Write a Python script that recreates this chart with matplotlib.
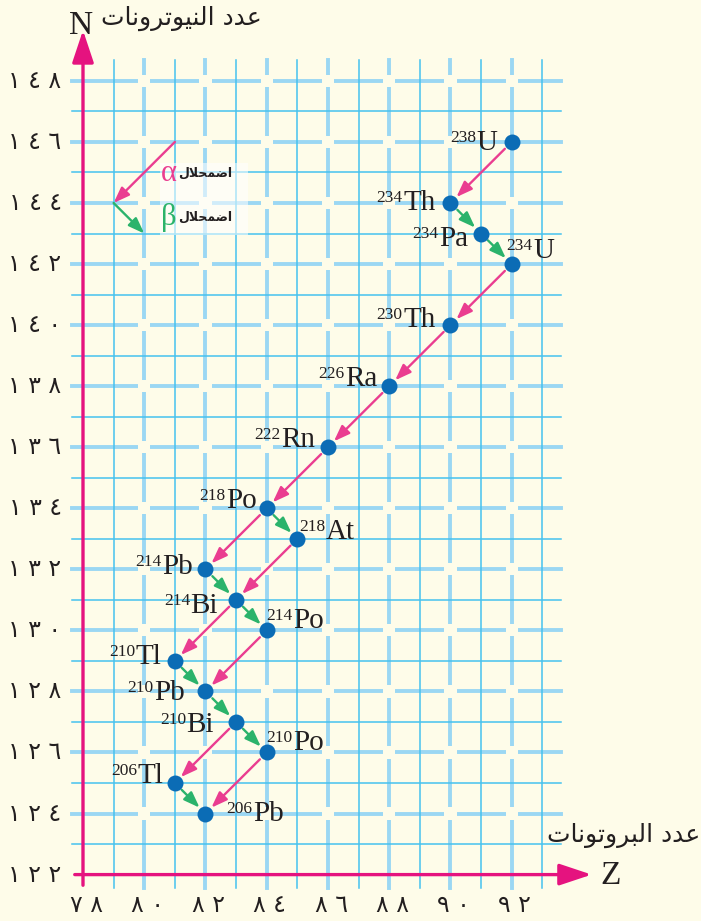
import matplotlib
matplotlib.use('Agg')
import matplotlib.pyplot as plt
from matplotlib.patches import FancyArrowPatch, Rectangle

# nuclides of the U-238 chain (Z = protons, N = neutrons)
Z = [92, 90, 91, 92, 90, 88, 86, 84, 85, 82, 83, 84, 81, 82, 83, 84, 81, 82]
N = [146, 144, 143, 142, 140, 138, 136, 134, 133, 132, 131, 130, 129, 128, 127, 126, 125, 124]
mass = [238, 234, 234, 234, 230, 226, 222, 218, 218, 214, 214, 214, 210, 210, 210, 210, 206, 206]
symbol = ['U', 'Th', 'Pa', 'U', 'Th', 'Ra', 'Rn', 'Po', 'At', 'Pb', 'Bi', 'Po',
          'Tl', 'Pb', 'Bi', 'Po', 'Tl', 'Pb']
alpha_decays = [(0, 1), (3, 4), (4, 5), (5, 6), (6, 7), (7, 9), (8, 10), (10, 12),
                (11, 13), (14, 16), (15, 17)]
beta_decays = [(1, 2), (2, 3), (7, 8), (9, 10), (10, 11), (12, 13), (13, 14), (14, 15), (16, 17)]
xticks = [78, 80, 82, 84, 86, 88, 90, 92]
yticks = [122, 124, 126, 128, 130, 132, 134, 136, 138, 140, 142, 144, 146, 148]

# label placement (pixels from the dot), not data
lab_pos = [('r', -14, -8), ('r', -15, -7), ('r', -13, -12), ('l', -5, 6), ('r', -15, -2),
           ('r', -12, 0), ('r', -13, 0), ('r', -10, 0), ('l', 2, 0), ('r', -13, -5),
           ('r', -18, -13), ('l', 0, 2), ('r', -13, -3), ('r', -21, -9), ('r', -22, -10),
           ('l', 0, 2), ('r', -11, 0), ('l', 21, -7)]

BG = '#fefce9'
THIN = '#45c2ef'
THICK = '#9bd7f3'
MAG = '#e5137f'
PINK = '#ea3d90'
GREEN = '#2bb36b'
DOT = '#0b6cb5'
INK = '#231f20'

# minimal arabic shaping (matplotlib does not join letters)
FORMS = {
    'ا': ('\uFE8D', '\uFE8E', None, None),
    'ب': ('\uFE8F', '\uFE90', '\uFE91', '\uFE92'),
    'ت': ('\uFE95', '\uFE96', '\uFE97', '\uFE98'),
    'ح': ('\uFEA1', '\uFEA2', '\uFEA3', '\uFEA4'),
    'د': ('\uFEA9', '\uFEAA', None, None),
    'ر': ('\uFEAD', '\uFEAE', None, None),
    'ض': ('\uFEBD', '\uFEBE', '\uFEBF', '\uFEC0'),
    'ع': ('\uFEC9', '\uFECA', '\uFECB', '\uFECC'),
    'ل': ('\uFEDD', '\uFEDE', '\uFEDF', '\uFEE0'),
    'م': ('\uFEE1', '\uFEE2', '\uFEE3', '\uFEE4'),
    'ن': ('\uFEE5', '\uFEE6', '\uFEE7', '\uFEE8'),
    'و': ('\uFEED', '\uFEEE', None, None),
    'ي': ('\uFEF1', '\uFEF2', '\uFEF3', '\uFEF4'),
}

def shape(s):
    letters = []
    i = 0
    while i < len(s):
        if s[i] == 'ل' and i + 1 < len(s) and s[i + 1] == 'ا':
            letters.append('لا')
            i += 2
        else:
            letters.append(s[i])
            i += 1
    out = []
    for k, ch in enumerate(letters):
        prev = letters[k - 1] if k > 0 else None
        nxt = letters[k + 1] if k + 1 < len(letters) else None
        jp = prev in FORMS and FORMS[prev][2] is not None
        if ch == 'لا':
            out.append('\uFEFC' if jp else '\uFEFB')
            continue
        if ch not in FORMS:
            out.append(ch)
            continue
        iso, fin, ini, med = FORMS[ch]
        jn = ini is not None and (nxt in FORMS or nxt == 'لا')
        if jp and jn:
            out.append(med)
        elif jp:
            out.append(fin)
        elif jn:
            out.append(ini)
        else:
            out.append(iso)
    return ''.join(out)[::-1]

def adigits(v):
    return ' '.join(str(v).translate(str.maketrans('0123456789', '٠١٢٣٤٥٦٧٨٩')))

plt.rcParams['font.family'] = ['DejaVu Sans']

fig = plt.figure(figsize=(7.01, 9.21), dpi=100)
fig.patch.set_facecolor(BG)
ax = fig.add_axes([0, 0, 1, 1])
ax.set_facecolor(BG)
ax.set_xlim(75.29, 98.18)
ax.set_ylim(120.48, 150.65)
ax.axis('off')

# grid
for z in range(79, 94):
    if z % 2:
        ax.plot([z, z], [121.56, 148.7], color=THIN, lw=1.1, zorder=2)
    else:
        ax.plot([z, z], [121.56, 148.7], color=THICK, lw=2.8, zorder=1)
for n in range(123, 149):
    if n % 2:
        ax.plot([77.64, 93.6], [n, n], color=THIN, lw=1.1, zorder=2)
    else:
        ax.plot([77.64, 93.6], [n, n], color=THICK, lw=2.8, zorder=1)
# gaps where the thick lines cross
for z in range(80, 93, 2):
    for n in range(124, 149, 2):
        ax.add_patch(Rectangle((z - 0.2, n - 0.2), 0.4, 0.4, color=BG, lw=0, zorder=1.5))

# axes arrows
ax.add_patch(FancyArrowPatch((78, 121.56), (78, 149.75), arrowstyle='-|>,head_length=0.9,head_width=0.3',
                             mutation_scale=22, color=MAG, lw=2.4, zorder=3))
ax.add_patch(FancyArrowPatch((77.64, 122), (94.7, 122), arrowstyle='-|>,head_length=0.9,head_width=0.3',
                             mutation_scale=22, color=MAG, lw=2.4, zorder=3))

for v in yticks:
    ax.text(77.3, v, adigits(v), ha='right', va='center', fontsize=17, color=INK)
for v in xticks:
    ax.text(v + 0.1, 121.0, adigits(v), ha='center', va='center', fontsize=17, color=INK)

ax.text(77.55, 149.55, 'N', family='Liberation Serif', fontsize=24, ha='left', va='baseline', color=INK)
ax.text(78.6, 150.06, shape('عدد النيوترونات'), fontsize=18, ha='left', va='center', color=INK)
ax.text(94.88, 121.69, 'Z', family='Liberation Serif', fontsize=24, ha='left', va='baseline', color=INK)
ax.text(98.14, 123.3, shape('عدد البروتونات'), fontsize=18, ha='right', va='center', color=INK)

# decay arrows
head = '-|>,head_length=0.6,head_width=0.22'
for a, b in alpha_decays:
    ax.annotate('', xy=(Z[b], N[b]), xytext=(Z[a], N[a]),
                arrowprops=dict(arrowstyle=head, color=PINK, lw=1.7, shrinkA=7, shrinkB=6,
                                mutation_scale=16), zorder=4)
for a, b in beta_decays:
    ax.annotate('', xy=(Z[b], N[b]), xytext=(Z[a], N[a]),
                arrowprops=dict(arrowstyle=head, color=GREEN, lw=1.7, shrinkA=7, shrinkB=6,
                                mutation_scale=16), zorder=4)

ax.plot(Z, N, 'o', color=DOT, ms=11.5, mec='none', zorder=5)

# nuclide labels: mass number as a raised smaller text
for i in range(len(Z)):
    side, dx, dy = lab_pos[i]
    if side == 'r':
        sym = ax.annotate(symbol[i], (Z[i], N[i]), xytext=(dx, dy), textcoords='offset pixels',
                          family='Liberation Serif', fontsize=21, ha='right', va='baseline',
                          color=INK, zorder=6)
        ax.annotate(str(mass[i]), (0, N[i]), xycoords=(sym, 'data'), xytext=(-0.5, dy + 8),
                    textcoords='offset pixels', family='Liberation Serif', fontsize=12.5,
                    ha='right', va='baseline', color=INK, zorder=6)
    else:
        sup = ax.annotate(str(mass[i]), (Z[i], N[i]), xytext=(dx, dy + 8), textcoords='offset pixels',
                          family='Liberation Serif', fontsize=12.5, ha='left', va='baseline',
                          color=INK, zorder=6)
        ax.annotate(symbol[i], (1, N[i]), xycoords=(sup, 'data'), xytext=(0.5, dy),
                    textcoords='offset pixels', family='Liberation Serif', fontsize=21,
                    ha='left', va='baseline', color=INK, zorder=6)

# key
ax.add_patch(Rectangle((80.51, 142.95), 2.88, 2.36, color='white', alpha=0.55, lw=0, zorder=2.5))
ax.annotate('', xy=(79, 144), xytext=(81, 146),
            arrowprops=dict(arrowstyle=head, color=PINK, lw=1.7, shrinkA=0, shrinkB=0,
                            mutation_scale=16), zorder=4)
ax.annotate('', xy=(80, 143), xytext=(79, 144),
            arrowprops=dict(arrowstyle=head, color=GREEN, lw=1.7, shrinkA=0, shrinkB=0,
                            mutation_scale=16), zorder=4)
ax.text(80.81, 144.98, 'α', family='Liberation Serif', fontsize=22, color=PINK, ha='center', va='center', zorder=6)
ax.text(80.81, 143.54, 'β', family='Liberation Serif', fontsize=22, color=GREEN, ha='center', va='center', zorder=6)
ax.text(81.1, 144.98, shape('اضمحلال'), fontsize=9, weight='bold', ha='left', va='center', color=INK, zorder=6)
ax.text(81.1, 143.54, shape('اضمحلال'), fontsize=9, weight='bold', ha='left', va='center', color=INK, zorder=6)

fig.savefig('out.png', dpi=100, facecolor=BG)
